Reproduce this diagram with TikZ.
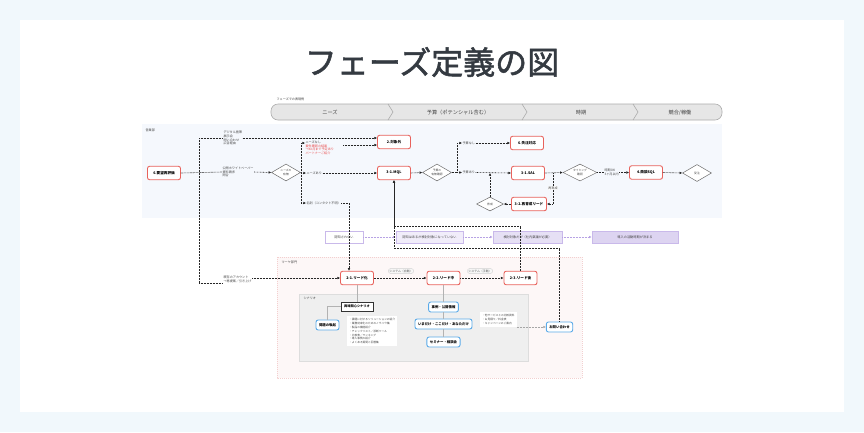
\documentclass[tikz,border=0pt]{standalone}
\usepackage{fontspec}
\setmainfont{Noto Sans CJK JP}
\newfontfamily\titlefont{Noto Sans CJK JP}[FakeBold=1.6]
\usetikzlibrary{arrows.meta,shapes.geometric,calc}
\definecolor{bgblue}{HTML}{F1F8FC}
\definecolor{titlec}{HTML}{343A41}
\definecolor{redb}{HTML}{E8625C}
\definecolor{blueb}{HTML}{5AAAE8}
\definecolor{upbg}{HTML}{F5F8FD}
\definecolor{lowbg}{HTML}{FDF7F7}
\definecolor{lowbd}{HTML}{F3CFCF}
\definecolor{graybg}{HTML}{EFEFEF}
\definecolor{graybd}{HTML}{DDDDDD}
\definecolor{phasefill}{HTML}{E6E6E6}
\definecolor{purbd}{HTML}{C9B9EA}
\definecolor{purA}{HTML}{F1EDFA}
\definecolor{purB}{HTML}{E6E0F5}
\definecolor{purC}{HTML}{DDD4F1}
\definecolor{purl}{HTML}{B7A2E4}
\definecolor{txtc}{HTML}{444444}
\definecolor{redt}{HTML}{E94B4B}
\tikzset{
 titlest/.style={font=\titlefont\fontsize{32}{36}\selectfont, text=titlec, inner sep=0pt},
 phtx/.style={font=\fontsize{5.2}{6}\selectfont, text=txtc, inner sep=0pt},
 tx/.style={font=\fontsize{3.1}{3.8}\selectfont, text=txtc, inner sep=0.4pt, align=left},
 rbox/.style={draw=redb, line width=0.9pt, fill=white, rounded corners=2.2pt, minimum width=33pt, minimum height=13.5pt, font=\fontsize{3.6}{4}\bfseries\selectfont, inner sep=0.5pt},
 bbox/.style={draw=blueb, line width=0.9pt, fill=white, rounded corners=2.2pt, minimum height=10pt, inner xsep=3pt, font=\fontsize{3.4}{4}\bfseries\selectfont, inner ysep=0.5pt},
 kbox/.style={draw=black!80, line width=0.5pt, fill=white, minimum width=32pt, minimum height=9pt, font=\fontsize{3.2}{4}\bfseries\selectfont, inner sep=0.5pt},
 lbox/.style={fill=white, font=\fontsize{2.7}{3.9}\selectfont, text=txtc, align=left, inner sep=2pt},
 dia/.style={diamond, draw=gray!85!black, line width=0.5pt, fill=white, aspect=1.7, minimum width=29pt, minimum height=17pt, inner sep=0pt, font=\fontsize{2.8}{3.3}\selectfont, align=center, text=txtc},
 pbox/.style={draw=purbd, line width=0.6pt, minimum height=12pt, font=\fontsize{3.2}{4}\selectfont, text=txtc, inner sep=1pt},
 pill/.style={draw=gray!35, fill=gray!6, rounded corners=2pt, font=\fontsize{2.9}{3.5}\selectfont, text=gray!75!black, inner sep=1pt},
 dl/.style={line width=0.6pt, dash pattern=on 0.75pt off 0.75pt, black!85},
 arr/.style={dl, -{Latex[length=2.6pt,width=2.6pt]}},
 parr/.style={line width=0.6pt, dash pattern=on 0.75pt off 0.75pt, purl, -{Latex[length=2.6pt,width=2.6pt]}},
 gl/.style={line width=0.6pt, gray!60},
 garr/.style={line width=0.5pt, dash pattern=on 0.75pt off 0.75pt, gray!70, -{Latex[length=2.4pt,width=2.4pt]}},
}
\begin{document}
\begin{tikzpicture}[x=1pt,y=-1pt]
\useasboundingbox (0,0) rectangle (864,432);
\fill[bgblue] (0,0) rectangle (864,432);
\fill[white] (20,20) rectangle (844,412);
\node[titlest] (title) at (432,62) {フェーズ定義の図};

% phase bar
\node[tx, anchor=west] (phl) at (276,99) {フェーズでの表現例};
\draw[gray!65, fill=phasefill, line width=0.6pt, rounded corners=7pt] (271,104) rectangle (722,120);
\draw[gray!65, line width=0.6pt] (388,104) -- (393,112) -- (388,120);
\draw[gray!65, line width=0.6pt] (522,104) -- (527,112) -- (522,120);
\draw[gray!65, line width=0.6pt] (633,104) -- (638,112) -- (633,120);
\node[phtx] (ph1) at (330,112.5) {ニーズ};
\node[phtx] (ph2) at (458,112.5) {予算（ポテンシャル含む）};
\node[phtx] (ph3) at (581,112.5) {時期};
\node[phtx] (ph4) at (680,112.5) {競合/稼働};

% areas
\fill[upbg] (142,124) rectangle (722,218);
\node[tx, anchor=west] (uplab) at (145,130) {営業部};
\draw[lowbd, dash pattern=on 1pt off 1pt, fill=lowbg, line width=0.5pt] (277,257) rectangle (582,378);
\node[tx, anchor=west] (lowlab) at (281,262) {マーケ部門};
\draw[graybd, fill=graybg, line width=0.5pt] (299,294) rectangle (528,361);
\node[tx, anchor=west] (grylab) at (303,298) {シナリオ};

% upper nodes
\node[rbox] (n6) at (164,173) {6.要望再評価};
\node[rbox] (n2) at (394,142) {2.対象外};
\node[rbox] (n31) at (394,173) {3-1.MQL};
\node[rbox] (n6s) at (527,143) {6.失注対応};
\node[rbox] (sal) at (528,173) {3-1.SAL};
\node[rbox, minimum width=35pt] (n32) at (529,204) {3-2.再育成リード};
\node[rbox] (n4) at (646,172.5) {4.商談SQL};
\node[dia] (d1) at (286,172.5) {ニーズの\\有無};
\node[dia] (d2) at (437,172.5) {予算の\\有無確認};
\node[dia, minimum width=34pt] (d4) at (580,172.5) {タイミング\\確認};
\node[dia, minimum width=27pt, minimum height=14pt] (d3) at (490,204) {育成};
\node[dia] (d5) at (697,173) {受注};

% upper labels
\node[tx, anchor=west] (lab1) at (223,138) {デジタル施策\\展示会\\問い合わせ\\広告経由};
\node[tx, anchor=west] (lab2) at (222,172) {公開ホワイトペーパー\\資料請求\\問合};
\node[tx, anchor=north west] (labno) at (305,140) {ニーズなし\\{\color{redt}要件確認の結果}\\{\color{redt}→XX月まで予定あり}\\{\color{redt}パートナーご紹介}};
\node[tx, anchor=west] (labyes) at (306,173) {ニーズあり};
\node[tx, anchor=west] (labm) at (306,203) {名刺（コンタクト不明）};
\node[tx, anchor=west] (labb0) at (462,143) {予算なし};
\node[tx, anchor=west] (labb1) at (462,172.5) {予算あり};
\node[tx, anchor=west] (labt) at (604,172.5) {時期OK\\3ヶ月以内};

% coordinates
\coordinate (bT) at (199,138);
\coordinate (bM) at (199,173);
\coordinate (bB) at (199,283);
\coordinate (sp1) at (301,143);
\coordinate (sp2) at (301,173);
\coordinate (sp3) at (301,203);
\coordinate (cno) at (343,145);
\coordinate (sq1) at (457,143);
\coordinate (sq2) at (457,172.5);
\coordinate (s1) at (553,173);
\coordinate (j1) at (394,226);
\coordinate (j2) at (394,248);

% upper connectors
\draw[dl] (n6.east) -- (lab2.west);
\draw[dl] (bT) -- (bB);
\draw[dl] (bT) -- (lab1.west |- bT);
\draw[arr] (lab1.east |- bT) -- (n2.west |- bT);
\draw[arr] (cno) -- (cno -| n2.west);
\draw[arr] (lab2.east) -- (d1.west);
\draw[dl] (d1.east) -- (sp2);
\draw[dl] (sp1) -- (sp3);
\draw[arr] (sp1) -- (labno.west |- sp1);
\draw[arr] (sp2) -- (labyes.west);
\draw[arr] (sp3) -- (labm.west);
\draw[arr] (labyes.east) -- (n31.west);
\draw[arr] (n31.east) -- (d2.west);
\draw[dl] (d2.east) -- (sq2);
\draw[dl] (sq1) -- (sq2);
\draw[arr] (sq1) -- (labb0.west);
\draw[arr] (sq2) -- (labb1.west);
\draw[arr] (labb0.east) -- (n6s.west);
\draw[arr] (labb1.east) -- (sal.west);
\draw[arr] (d3.north) -- (d3.north |- sal.west);
\draw[arr] (n32.west) -- (d3.east);
\draw[arr] (sal.east) -- (d4.west);
\draw[arr] (s1) |- (n32.east);
\node[tx, fill=white] (labre) at (553,188) {再育成};
\draw[dl] (d4.east) -- (labt.west);
\draw[arr] (labt.east) -- (n4.west);
\draw[arr] (n4.east) -- (d5.west);

% purple row
\node[pbox, fill=white, minimum width=38pt] (p1) at (344,237) {認知されない};
\node[pbox, fill=purA, minimum width=67pt] (p2) at (429.5,237) {認知はあるが検討対象になっていない};
\node[pbox, fill=purB, minimum width=69pt] (p3) at (527.5,237) {検討対象だが（社内稟議が必要）};
\node[pbox, fill=purC, minimum width=86pt] (p4) at (635,237) {導入の活動時期が決まる};
\draw[parr] (p1.east) -- (p2.west);
\draw[parr] (p2.east) -- (p3.west);
\draw[parr] (p3.east) -- (p4.west);

% lower nodes
\node[rbox] (n21) at (357,278) {2-1.リード化};
\node[rbox] (n22) at (443.5,278) {2-2.リード中};
\node[rbox] (n23) at (520.5,278) {2-3.リード後};
\node[pill] (pl1) at (401,271) {システム（自動）};
\node[pill] (pl2) at (480,271) {システム（手動）};
\node[tx, anchor=west] (lab3) at (223,279) {既存のアカウント\\→再提案／引き上げ};
\node[kbox] (kx) at (357,306.5) {興味関心シナリオ};
\node[bbox] (bq) at (327.5,325) {問題の喚起};
\node[lbox, anchor=north west] (lst) at (347,316) {・課題に対するソリューションの紹介\\・業務効率化のためのノウハウ集\\・製品の機能紹介\\・チェックリスト／診断ツール\\・比較表／ランキング\\・導入事例の紹介\\・よくある質問と回答集};
\node[bbox] (bj) at (443.5,307) {事例・公開情報};
\node[bbox] (bi) at (443.5,324) {いまだけ・ここだけ・あなただけ};
\node[bbox] (bs) at (443.5,342) {セミナー・相談会};
\node[lbox, anchor=north west] (lst2) at (480,312) {・他サービスとの比較資料\\・お見積り／料金表\\・キャンペーンのご案内};
\node[bbox] (bk) at (559.5,327) {お問い合わせ};

% lower connectors
\draw[arr] (labm.east) -| ([xshift=-8pt]n21.north);
\draw[dl] (bB) -- (lab3.west |- bB);
\draw[arr] (lab3.east |- n21.west) -- (n21.west);
\draw[arr] (n21.east) -- (n22.west);
\draw[arr] (n22.east) -- (n23.west);
\draw[arr] (n23.north) |- (j1) -- (n31.south);
\draw[arr] (bk.north) |- (j2) -- (n31.south);
\draw[gl] (n21.south) -- (kx.north);
\draw[gl] (kx.west) -| (bq.north);
\draw[gl] (n22.south) -- (bj.north);
\draw[gl] (bj.south) -- (bi.north);
\draw[gl] (bi.south) -- (bs.north);
\draw[garr] (lst2.east |- bk.west) -- (bk.west);
\end{tikzpicture}
\end{document}
